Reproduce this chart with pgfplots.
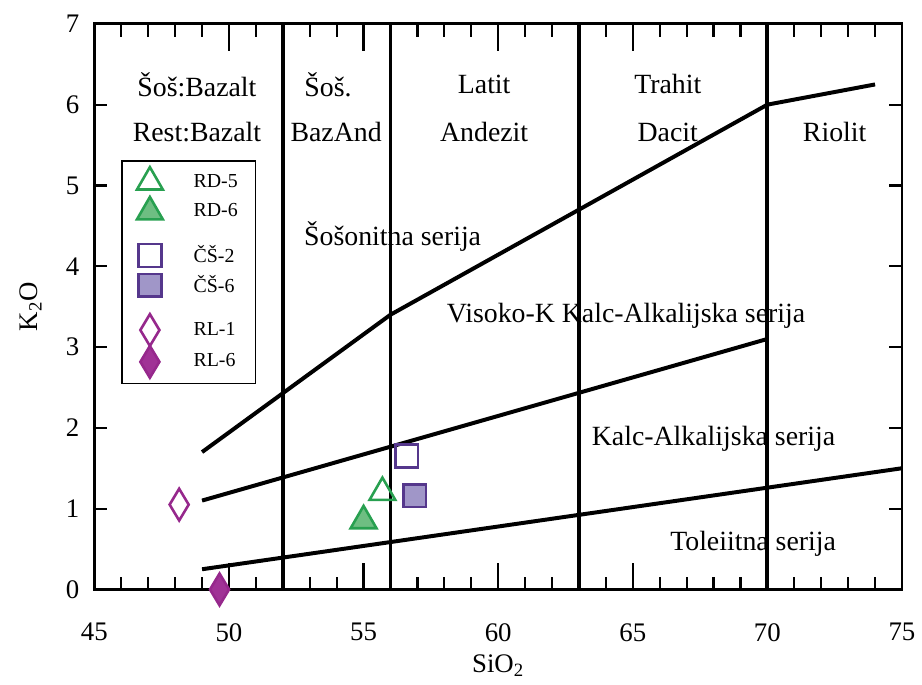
\documentclass[border=0pt]{standalone}
\usepackage{fontspec}
\setmainfont{Liberation Serif}
\usepackage{pgfplots}
\pgfplotsset{compat=1.18}
\definecolor{gedge}{RGB}{40,160,80}
\definecolor{gfill}{RGB}{110,190,130}
\definecolor{pedge}{RGB}{85,55,140}
\definecolor{pfill}{RGB}{160,150,200}
\definecolor{medge}{RGB}{150,40,140}
\definecolor{mfill}{RGB}{160,50,150}
\pgfplotsset{
  normlegend/.style={legend image code/.code={\path[draw=none,fill=none] (-7pt,-7.5pt) rectangle (7pt,7.5pt); \draw[##1] plot coordinates {(0pt,0pt)};}},
  gaplegend/.style={legend image code/.code={\path[draw=none,fill=none] (-7pt,-14.5pt) rectangle (7pt,7.5pt); \draw[##1] plot coordinates {(0pt,0pt)};}},
  ytk/.style={black, line width=1.1pt, forget plot},
}
\begin{document}
\begin{tikzpicture}
\begin{axis}[
  scale only axis, width=406.5pt, height=284.7pt,
  xmin=45, xmax=75, ymin=0, ymax=7,
  xtick={45,...,75},
  xticklabels={45,,,,,50,,,,,55,,,,,60,,,,,65,,,,,70,,,,,75},
  extra x ticks={50,55,60,65,70}, extra x tick labels={},
  extra x tick style={major tick length=13.5pt},
  ytick={0,...,7},
  tick align=inside,
  major tick length=6.5pt,
  tick style={black, line width=1.1pt},
  axis line style={line width=1.4pt},
  ticklabel style={font=\fontsize{13.5}{16}\selectfont},
  /pgf/number format/assume math mode=true,
  xticklabel shift=13.5pt, yticklabel shift=4pt,
  xlabel={SiO\textsubscript{2}}, ylabel={K\textsubscript{2}O},
  label style={font=\fontsize{13.5}{16}\selectfont},
  xlabel style={at={(axis description cs:0.5,-0.135)}, anchor=center},
  ylabel style={at={(axis description cs:-0.079,0.5)}, anchor=center},
  clip=false,
  legend style={at={(axis cs:46.0,5.31)}, anchor=north west, draw=black, line width=0.8pt,
    inner xsep=7pt, inner ysep=3pt, row sep=0pt, font=\fontsize{10}{12}\selectfont,
    /tikz/every odd column/.append style={column sep=13pt}},
  legend cell align=left,
  normlegend,
]
% y tick marks (left and right frame)
\addplot[ytk] coordinates {(45,1) (45.48,1)};
\addplot[ytk] coordinates {(45,2) (45.48,2)};
\addplot[ytk] coordinates {(45,3) (45.48,3)};
\addplot[ytk] coordinates {(45,4) (45.48,4)};
\addplot[ytk] coordinates {(45,5) (45.48,5)};
\addplot[ytk] coordinates {(45,6) (45.48,6)};
\addplot[ytk] coordinates {(74.52,1) (75,1)};
\addplot[ytk] coordinates {(74.52,2) (75,2)};
\addplot[ytk] coordinates {(74.52,3) (75,3)};
\addplot[ytk] coordinates {(74.52,4) (75,4)};
\addplot[ytk] coordinates {(74.52,5) (75,5)};
\addplot[ytk] coordinates {(74.52,6) (75,6)};
% boundary lines
\addplot[black, line width=2pt, forget plot] coordinates {(49,0.25) (75,1.5)};
\addplot[black, line width=2pt, forget plot] coordinates {(49,1.1) (70,3.1)};
\addplot[black, line width=2pt, forget plot] coordinates {(49,1.7) (56,3.4) (70,6.0) (74,6.25)};
\addplot[black, line width=2pt, forget plot] coordinates {(52,0) (52,7)};
\addplot[black, line width=2pt, forget plot] coordinates {(56,0) (56,7)};
\addplot[black, line width=2pt, forget plot] coordinates {(63,0) (63,7)};
\addplot[black, line width=2pt, forget plot] coordinates {(70,0) (70,7)};
% samples
\addplot[only marks, color=gedge, mark=triangle, mark size=7.5pt, line width=1.3pt] coordinates {(55.7,1.2)};
\addlegendentry{RD-5}
\addplot[only marks, color=gedge, mark=triangle*, mark size=7.5pt, line width=1.3pt, mark options={fill=gfill}, gaplegend] coordinates {(55.0,0.85)};
\addlegendentry{RD-6}
\addplot[only marks, color=pedge, mark=square, mark size=5.75pt, line width=1.3pt] coordinates {(56.6,1.65)};
\addlegendentry{ČŠ-2}
\addplot[only marks, color=pedge, mark=square*, mark size=5.75pt, line width=1.3pt, mark options={fill=pfill}, gaplegend] coordinates {(56.9,1.16)};
\addlegendentry{ČŠ-6}
\addplot[only marks, color=medge, mark=diamond, mark size=8pt, line width=1.3pt, mark options={xscale=0.8}] coordinates {(48.15,1.05)};
\addlegendentry{RL-1}
\addplot[only marks, color=medge, mark=diamond*, mark size=8pt, line width=1.3pt, mark options={xscale=0.8, fill=mfill}] coordinates {(49.65,0.0)};
\addlegendentry{RL-6}
% field labels
\begin{scope}[every node/.style={font=\fontsize{14}{16}\selectfont}]
\node at (axis cs:48.81,6.25) {Šoš:Bazalt};
\node at (axis cs:48.81,5.66) {Rest:Bazalt};
\node at (axis cs:53.68,6.25) {Šoš.};
\node at (axis cs:53.98,5.66) {BazAnd};
\node at (axis cs:59.48,6.25) {Latit};
\node at (axis cs:59.48,5.66) {Andezit};
\node at (axis cs:66.3,6.25) {Trahit};
\node at (axis cs:66.3,5.66) {Dacit};
\node at (axis cs:72.5,5.66) {Riolit};
\node at (axis cs:56.08,4.37) {Šošonitna serija};
\node at (axis cs:64.75,3.39) {Visoko-K Kalc-Alkalijska serija};
\node at (axis cs:68.0,1.86) {Kalc-Alkalijska serija};
\node at (axis cs:69.47,0.56) {Toleiitna serija};
\end{scope}
\end{axis}
\path (-47.5pt,-48pt) rectangle (413.5pt,296.7pt);
\end{tikzpicture}
\end{document}
